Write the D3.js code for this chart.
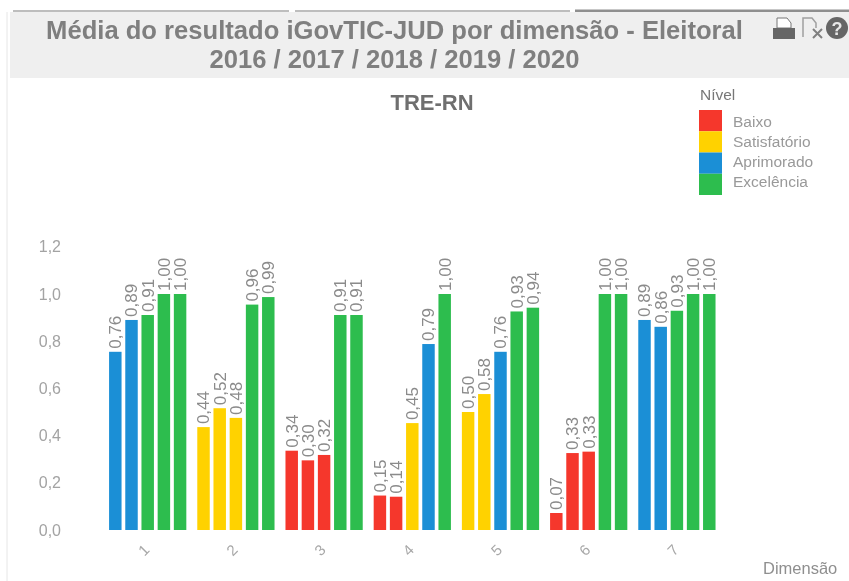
<!DOCTYPE html>
<html>
<head>
<meta charset="utf-8">
<script src="https://d3js.org/d3.v7.min.js"></script>
<style>
  html, body { margin: 0; padding: 0; background: #fff; }
  svg { display: block; }
</style>
</head>
<body>
<script>
var dimensions = ["1", "2", "3", "4", "5", "6", "7"];
var years = ["2016", "2017", "2018", "2019", "2020"];
var values2016 = [0.7551, 0.436, 0.336, 0.146, 0.50, 0.072, 0.89];
var values2017 = [0.89, 0.516, 0.2951, 0.141, 0.576, 0.326, 0.861];
var values2018 = [0.911, 0.4751, 0.318, 0.453, 0.7551, 0.332, 0.929];
var values2019 = [1.00, 0.9551, 0.911, 0.788, 0.926, 1.00, 1.00];
var values2020 = [1.00, 0.987, 0.911, 1.00, 0.942, 1.00, 1.00];
var levels = ["Baixo", "Satisfatório", "Aprimorado", "Excelência"];
var levelColors = ["#f5372c", "#ffd200", "#1b8fd6", "#2dbd4e"];
var levelLimits = [0.4, 0.6, 0.9];
var yTicks = [0, 0.2, 0.4, 0.6, 0.8, 1.0, 1.2];

var series = [values2016, values2017, values2018, values2019, values2020];

var w = 849;
var h = 581;
var grey = "#8b8b8b";
var font = "'Liberation Sans', Arial, sans-serif";

var svg = d3.select("body").append("svg")
    .attr("width", w)
    .attr("height", h)
    .style("filter", "blur(0.6px)");

// tabs on top and title band
[[13, 289], [295, 570], [575, 849]].forEach(function (t, i) {
    svg.append("line")
        .attr("x1", t[0]).attr("x2", t[1])
        .attr("y1", 11).attr("y2", 11)
        .attr("stroke", i == 2 ? "#8f8f8f" : "#bdbdbd")
        .attr("stroke-width", i == 2 ? 3 : 2);
});
svg.append("rect")
    .attr("x", 10).attr("y", 12)
    .attr("width", w - 10).attr("height", 66)
    .attr("fill", "#efefef");
svg.append("line")
    .attr("x1", 7).attr("x2", 7)
    .attr("y1", 12).attr("y2", 581)
    .attr("stroke", "#e6e6e6");

svg.append("text")
    .attr("x", 394.5).attr("y", 39)
    .attr("text-anchor", "middle")
    .attr("font-family", font).attr("font-size", 25.6)
    .attr("font-weight", "bold")
    .attr("fill", "#7f7f7f")
    .text("Média do resultado iGovTIC-JUD por dimensão - Eleitoral");
svg.append("text")
    .attr("x", 394.5).attr("y", 68)
    .attr("text-anchor", "middle")
    .attr("font-family", font).attr("font-size", 25.6)
    .attr("font-weight", "bold")
    .attr("fill", "#7f7f7f")
    .text("2016 / 2017 / 2018 / 2019 / 2020");

// toolbar icons
var icons = svg.append("g");
icons.append("path").attr("d", "M777 28v-10h10l4 5v5z").attr("fill", "#fff").attr("stroke", "#777");
icons.append("rect").attr("x", 773).attr("y", 28).attr("width", 22).attr("height", 11).attr("fill", "#666");
icons.append("path").attr("d", "M803 37v-19h9l4 5v5").attr("fill", "none").attr("stroke", "#a0a0a0").attr("stroke-width", 1.5);
icons.append("path").attr("d", "M813 29l9 9M822 29l-9 9").attr("fill", "none").attr("stroke", "#808080").attr("stroke-width", 2);
icons.append("circle").attr("cx", 837).attr("cy", 28).attr("r", 11).attr("fill", "#666");
icons.append("text").attr("x", 837).attr("y", 34.5).attr("text-anchor", "middle")
    .attr("font-family", font).attr("font-size", 18).attr("font-weight", "bold").attr("fill", "#e8e8e8").text("?");

svg.append("text")
    .attr("x", 432).attr("y", 110)
    .attr("text-anchor", "middle")
    .attr("font-family", font).attr("font-size", 22)
    .attr("font-weight", "bold")
    .attr("fill", "#6f6f6f")
    .text("TRE-RN");

// scales
var xScale = d3.scaleBand()
    .domain(dimensions)
    .range([103.6, 721])
    .paddingInner(0.082)
    .paddingOuter(0.041);

var barScale = d3.scaleBand()
    .domain(years)
    .range([0, xScale.bandwidth()])
    .paddingInner(0.23)
    .paddingOuter(0.115);

var yScale = d3.scaleLinear()
    .domain([0, 1.2])
    .range([530, 246.8]);

var colorScale = d3.scaleThreshold()
    .domain(levelLimits)
    .range(levelColors);

var comma = function (v) { return d3.format(".2f")(v).replace(".", ","); };

// axes
var yAxis = d3.axisLeft(yScale)
    .tickValues(yTicks)
    .tickSize(0)
    .tickPadding(0)
    .tickFormat(function (d) { return d3.format(".1f")(d).replace(".", ","); });

var gy = svg.append("g")
    .attr("transform", "translate(61,0)")
    .call(yAxis);
gy.select(".domain").remove();
gy.selectAll("text")
    .attr("font-family", font).attr("font-size", 16).attr("fill", "#a3a3a3");

var xAxis = d3.axisBottom(xScale).tickSize(0).tickPadding(0);
var gx = svg.append("g")
    .attr("transform", "translate(-4,550)")
    .call(xAxis);
gx.select(".domain").remove();
gx.selectAll("text")
    .attr("font-family", font).attr("font-size", 15).attr("fill", "#a8a8a8")
    .attr("dy", "0.35em").attr("y", 0)
    .attr("transform", "rotate(-45)");

svg.append("text")
    .attr("x", 763).attr("y", 574)
    .attr("font-family", font).attr("font-size", 16.5)
    .attr("fill", "#8f8f8f")
    .text("Dimensão");

// bars and labels
var groups = svg.selectAll(".dim")
    .data(dimensions)
    .enter()
    .append("g")
    .attr("class", "dim")
    .attr("transform", function (d) { return "translate(" + xScale(d) + ",0)"; });

var cells = groups.selectAll(".cell")
    .data(function (d, i) {
        return years.map(function (y, j) { return { year: y, value: series[j][i] }; });
    })
    .enter();

cells.append("rect")
    .attr("x", function (d) { return barScale(d.year); })
    .attr("y", function (d) { return yScale(d.value); })
    .attr("width", barScale.bandwidth())
    .attr("height", function (d) { return yScale(0) - yScale(d.value); })
    .attr("fill", function (d) { return colorScale(d.value); });

cells.append("text")
    .attr("transform", function (d) {
        return "translate(" + (barScale(d.year) + barScale.bandwidth() / 2) + "," + (yScale(d.value) - 3) + ") rotate(-90)";
    })
    .attr("dy", "0.35em")
    .attr("font-family", font).attr("font-size", 17)
    .attr("fill", grey)
    .text(function (d) { return comma(d.value); });

// legend
var swatchY = d3.scaleBand().domain(levels).range([110, 195]);
var labelY = d3.scaleBand().domain(levels).range([112, 192]);

svg.append("text")
    .attr("x", 700).attr("y", 100)
    .attr("font-family", font).attr("font-size", 15.5)
    .attr("fill", "#777")
    .text("Nível");

svg.selectAll(".swatch")
    .data(levels)
    .enter()
    .append("rect")
    .attr("x", 699)
    .attr("y", function (d) { return swatchY(d); })
    .attr("width", 23)
    .attr("height", swatchY.bandwidth())
    .attr("fill", function (d, i) { return levelColors[i]; });

svg.selectAll(".legendLabel")
    .data(levels)
    .enter()
    .append("text")
    .attr("x", 733)
    .attr("y", function (d) { return labelY(d) + labelY.bandwidth() / 2; })
    .attr("dy", "0.35em")
    .attr("font-family", font).attr("font-size", 15.5)
    .attr("fill", "#999")
    .text(function (d) { return d; });
</script>
</body>
</html>
